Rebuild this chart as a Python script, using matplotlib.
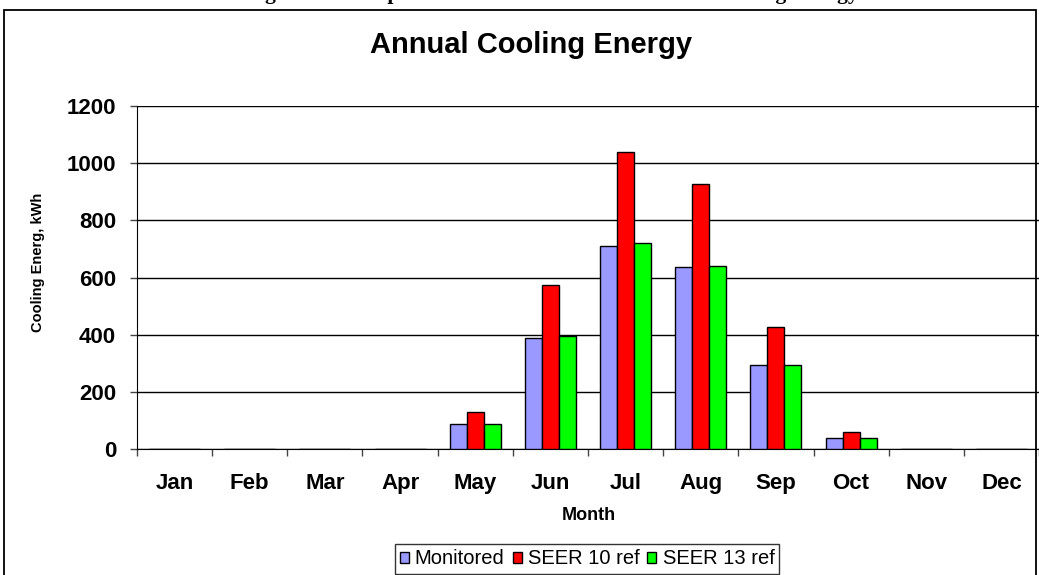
import matplotlib
matplotlib.use("Agg")
import matplotlib.pyplot as plt
import numpy as np
from matplotlib.patches import Rectangle

months = ["Jan", "Feb", "Mar", "Apr", "May", "Jun", "Jul", "Aug", "Sep", "Oct", "Nov", "Dec"]
monitored = [0, 0, 0, 0, 90, 390, 712, 636, 295, 40, 0, 0]
seer10 = [0, 0, 0, 0, 131, 573, 1040, 927, 427, 59, 0, 0]
seer13 = [0, 0, 0, 0, 90, 395, 721, 641, 295, 40, 0, 0]
series_names = ["Monitored", "SEER 10 ref", "SEER 13 ref"]
colors = ["#9999FF", "#FF0000", "#00FF00"]

W, H = 1039, 575
fig = plt.figure(figsize=(W / 100, H / 100), dpi=100)
fig.patch.set_facecolor("white")

# outer chart border
fig.patches.append(Rectangle((4 / W, -0.01), (1036 - 4) / W, 1 - 9.5 / H + 0.01,
                             transform=fig.transFigure, fill=False,
                             edgecolor="black", linewidth=1.3, zorder=0))

# cut-off caption above the chart (only descenders visible)
fig.text(552 / W, 1 + 1.5 / H, "Figure 11. Comparison of Monitored and Modeled Cooling Energy",
         family="Liberation Serif", weight="bold", fontsize=15.5,
         ha="center", va="baseline")

left, right = 137, 1039
bottom, top = 449.3, 106
ax = fig.add_axes([left / W, 1 - bottom / H, (right - left) / W, (bottom - top) / H])

x = np.arange(len(months))
bw = 0.226
for i, (vals, name, c) in enumerate(zip([monitored, seer10, seer13], series_names, colors)):
    ax.bar(x + (i - 1) * bw, vals, width=bw, color=c, edgecolor="black",
           linewidth=1.0, label=name, zorder=3)

ax.set_xlim(-0.5, len(months) - 0.5)
ax.set_ylim(0, 1200)
ax.set_yticks(range(0, 1201, 200))
ax.yaxis.grid(True, color="black", linewidth=1.0, zorder=0)
ax.set_axisbelow(True)
for s in ["top", "right"]:
    ax.spines[s].set_visible(False)
ax.spines["left"].set_color("black")
ax.spines["bottom"].set_color("black")

ax.set_xticks(x)
ax.set_xticklabels(months, fontsize=16, fontweight="bold", family="Liberation Sans")
ax.set_xticks(np.arange(-0.5, len(months)), minor=True)
ax.tick_params(axis="x", which="major", length=0, pad=17)
ax.tick_params(axis="x", which="minor", length=5, width=1, color="#444444")
ax.tick_params(axis="y", length=5, width=1, color="#444444", pad=10)
for lab in ax.get_yticklabels():
    lab.set_fontsize(16)
    lab.set_fontweight("bold")
    lab.set_family("Liberation Sans")

fig.text(589 / W, 1 - 515 / H, "Month", fontsize=13, fontweight="bold",
         family="Liberation Sans", ha="center", va="center")
fig.text(38 / W, 1 - 262 / H, "Cooling Energ, kWh", fontsize=10.5, fontweight="bold",
         family="Liberation Sans", ha="center", va="center", rotation=90)
fig.text(531 / W, 1 - 45 / H, "Annual Cooling Energy", fontsize=21, fontweight="bold",
         family="Liberation Sans", ha="center", va="center")

leg = fig.legend(loc="center", bbox_to_anchor=(587 / W, 1 - 559 / H), ncol=3,
                 prop={"family": "Liberation Sans", "size": 14.5},
                 frameon=True, fancybox=False, edgecolor="black",
                 handlelength=0.45, handleheight=0.45, handletextpad=0.3,
                 columnspacing=0.4, borderpad=0.25, borderaxespad=0)
leg.get_frame().set_linewidth(1.0)

fig.savefig("out.png", dpi=100, facecolor="white")
